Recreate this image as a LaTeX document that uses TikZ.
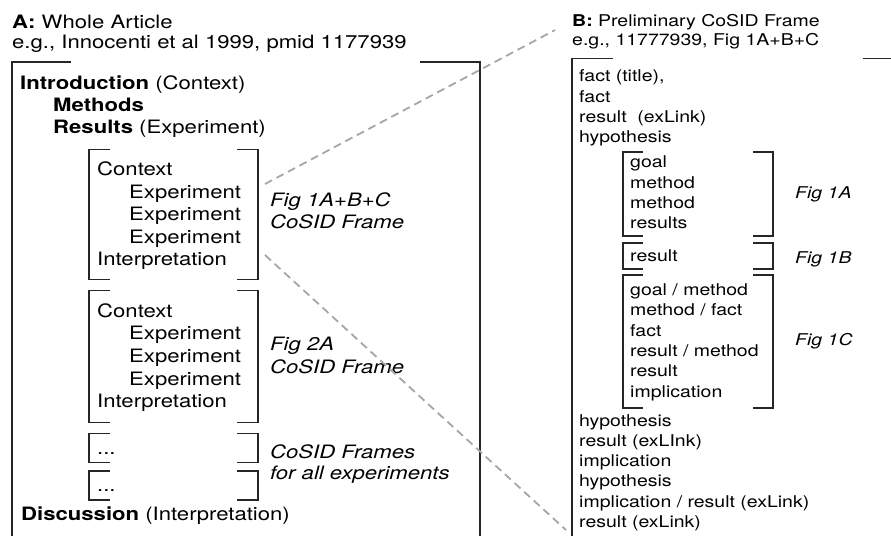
\documentclass[tikz,border=0pt]{standalone}
\usepackage{fontspec}
\setmainfont{TeX Gyre Heros}[FakeStretch=1.2]
\usetikzlibrary{calc}
\tikzset{
  txta/.style={anchor=base west,inner sep=0pt,font=\fontsize{18.5}{22}\selectfont},
  txtb/.style={anchor=base west,inner sep=0pt,font=\fontsize{16.3}{20}\selectfont},
  figa/.style={txta,font=\fontsize{18.5}{22}\selectfont\itshape},
  figb/.style={txtb,font=\fontsize{16.3}{20}\selectfont\itshape},
  brk/.style={line width=1.6bp,draw=black!85},
  zoomline/.style={draw=black!35,line width=1.8bp,dash pattern=on 8bp off 5bp}
}
% bracket pair: x1,y1,x2,y2,arm
\newcommand{\brackbox}[5]{%
  \draw[brk] (#1+#5,#2) -- (#1,#2) -- (#1,#4) -- (#1+#5,#4);
  \draw[brk] (#3-#5,#2) -- (#3,#2) -- (#3,#4) -- (#3-#5,#4);}

\begin{document}
\begin{tikzpicture}[x=1bp,y=-1bp]
\useasboundingbox (0,0) rectangle (891,536);
%PANEL A
\node[txta] (titA) at (12,28.5) {\textbf{A:} Whole Article};
\node[txta] (refA) at (12,49) {e.g., Innocenti et al 1999, pmid 1177939};
\draw[brk] (71,62) -- (12,62) -- (12,536);
\draw[brk] (420,62) -- (480,62) -- (480,536);
\node[txta] (intro) at (20,89.5) {\textbf{Introduction} (Context)};
\node[txta] (meth) at (53,111.5) {\textbf{Methods}};
\node[txta] (res) at (53,133.5) {\textbf{Results} (Experiment)};
%FRAMES
\brackbox{89}{149.5}{258}{279.5}{21}
\node[txta] (ctx1) at (97,176) {Context};
\foreach \i in {0,1,2}
  \node[txta] (exp1-\i) at (129,198.5+\i*22.5) {Experiment};
\node[txta] (int1) at (97,266) {Interpretation};
\node[figa] (fig1) at (270,207) {Fig 1A+B+C};
\node[figa] (cos1) at (270,229) {CoSID Frame};
\brackbox{89}{290.5}{258}{422.5}{21}
\node[txta] (ctx2) at (97,317.5) {Context};
\foreach \i in {0,1,2}
  \node[txta] (exp2-\i) at (129,340+\i*22.5) {Experiment};
\node[txta] (int2) at (97,407.5) {Interpretation};
\node[figa] (fig2) at (270,351) {Fig 2A};
\node[figa] (cos2) at (270,373) {CoSID Frame};
\brackbox{89}{433.3}{258}{462.3}{21}
\node[txta] (dots1) at (97,454) {...};
\brackbox{89}{470.7}{258}{500}{21}
\node[txta] (dots2) at (97,491.7) {...};
\node[figa] (cos3) at (270,458) {CoSID Frames};
\node[figa] (all) at (270,479.5) {for all experiments};
\node[txta] (disc) at (21,520) {\textbf{Discussion} (Interpretation)};
%PANEL B
\node[txtb] (titB) at (572,26.5) {\textbf{B:} Preliminary CoSID Frame};
\node[txtb] (refB) at (572,46) {e.g., 11777939, Fig 1A+B+C};
\draw[brk] (613,58.5) -- (572,58.5) -- (572,536);
\draw[brk] (863,58.5) -- (891,58.5);
\foreach \w [count=\i from 0] in {{fact (title),},fact,result\ \ (exLink),hypothesis}
  \node[txtb] (top-\i) at (579,82+\i*20.3) {\w};
\brackbox{623}{152}{773}{236}{20}
\foreach \w [count=\i from 0] in {goal,method,method,results}
  \node[txtb] (ga-\i) at (630,168+\i*20.3) {\w};
\node[figb] (figA) at (795,199) {Fig 1A};
\brackbox{623}{243}{773}{269}{20}
\node[txtb] (gb) at (630,262) {result};
\node[figb] (figB) at (795,264) {Fig 1B};
\brackbox{623}{275}{773}{408}{20}
\foreach \w [count=\i from 0] in {goal / method,method / fact,fact,result / method,result,implication}
  \node[txtb] (gc-\i) at (630,295.5+\i*20.3) {\w};
\node[figb] (figC) at (795,346) {Fig 1C};
\foreach \w [count=\i from 0] in {hypothesis,result (exLInk),implication,hypothesis,implication / result (exLink),result (exLink)}
  \node[txtb] (bot-\i) at (579,426+\i*20.3) {\w};
%ZOOM LINES
\coordinate (frA1) at (265,184);
\coordinate (frA2) at (265,255);
\coordinate (frBt) at (555,30);
\coordinate (frBb) at (566,530);
\draw[zoomline] (frA1) -- (frBt);
\draw[zoomline] (frA2) -- (frBb);
\end{tikzpicture}
\end{document}
